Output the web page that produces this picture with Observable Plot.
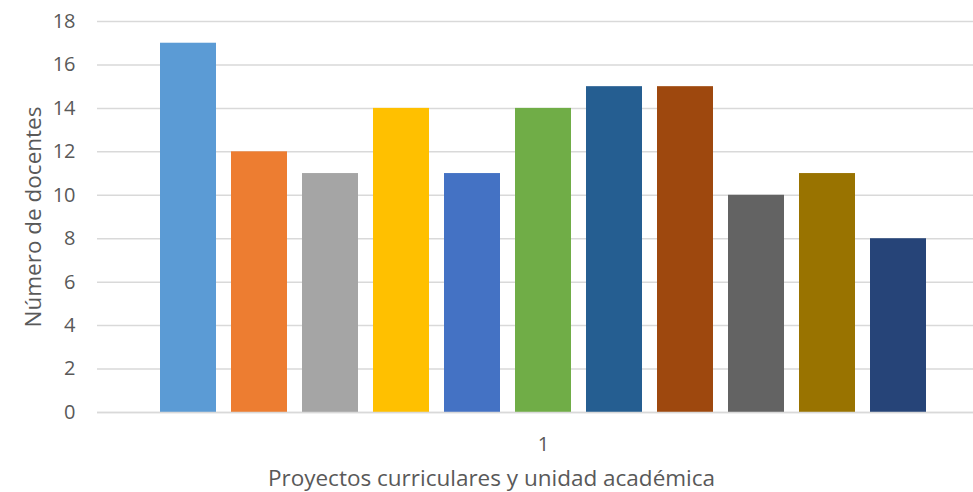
<!DOCTYPE html>
<html>
<head>
<meta charset="utf-8">
<script src="https://cdn.jsdelivr.net/npm/d3@7"></script>
<script src="https://cdn.jsdelivr.net/npm/@observablehq/plot@0.6"></script>
<style>
  html, body { margin: 0; padding: 0; background: #fff; }
  #chart svg { display: block; }
</style>
</head>
<body>
<div id="chart"></div>
<script>
const series = ["S1","S2","S3","S4","S5","S6","S7","S8","S9","S10","S11"];
const values = [17, 12, 11, 14, 11, 14, 15, 15, 10, 11, 8];
const colors = ["#5B9BD5","#ED7D31","#A5A5A5","#FFC000","#4472C4","#70AD47","#255E91","#9E480E","#636363","#997300","#264478"];
const categoryLabel = "1";
const yTicks = [0, 2, 4, 6, 8, 10, 12, 14, 16, 18];
const xTitle = "Proyectos curriculares y unidad académica";
const yTitle = "Número de docentes";

const data = series.map((s, i) => ({series: s, value: values[i]}));
const font = "Open Sans, sans-serif";

const chart = Plot.plot({
  width: 973,
  height: 492,
  marginLeft: 97,
  marginRight: 0,
  marginTop: 21,
  marginBottom: 80,
  style: {fontFamily: font, fontSize: "20px", color: "#595959", background: "#fff"},
  x: {domain: series, paddingInner: 0.217, paddingOuter: 0.734, align: 0.57, label: null},
  y: {domain: [0, 18], label: null},
  color: {domain: series, range: colors},
  marks: [
    Plot.gridY(yTicks, {stroke: "#d9d9d9", strokeOpacity: 1, strokeWidth: 1.5}),
    Plot.barY(data, {x: "series", y: "value", fill: "series"}),
    Plot.ruleY([0], {stroke: "#d9d9d9", strokeWidth: 1.5}),
    Plot.axisY({ticks: yTicks, tickSize: 0, tickPadding: 22, fill: "#595959", fontSize: 20, label: null}),
    Plot.axisX({tickSize: 0, tickPadding: 24, fill: "#595959", fontSize: 20, label: null,
      tickFormat: (d, i) => d === series[5] ? categoryLabel : ""}),
    Plot.text([xTitle], {text: d => d, frameAnchor: "bottom", dx: -44, dy: 66, lineAnchor: "middle",
      textAnchor: "middle", fontSize: 22.5, fill: "#595959"}),
    Plot.text([yTitle], {text: d => d, frameAnchor: "left", dx: -64, rotate: -90, lineAnchor: "middle",
      textAnchor: "middle", fontSize: 22.5, fill: "#595959"})
  ]
});
document.getElementById("chart").appendChild(chart);
</script>
</body>
</html>
